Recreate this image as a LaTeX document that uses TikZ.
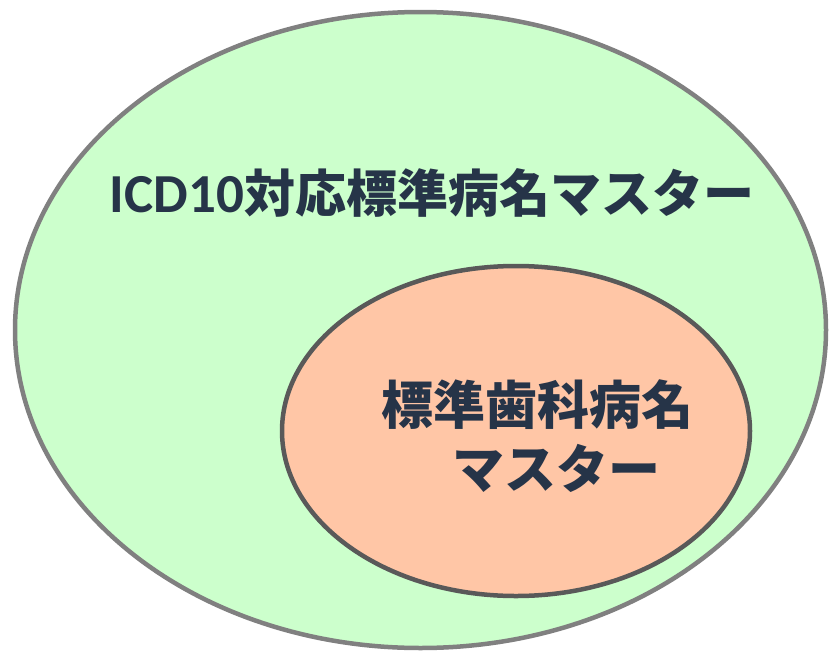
\documentclass[tikz,border=0pt]{standalone}
\usepackage{fontspec}
\newfontfamily\jpfont{Noto Sans CJK JP}
\newfontfamily\latfont{Carlito}
\definecolor{outerfill}{HTML}{CCFFCC}
\definecolor{outerline}{HTML}{808080}
\definecolor{innerfill}{HTML}{FFC6A6}
\definecolor{innerline}{HTML}{595959}
\definecolor{txt}{RGB}{38,52,72}
\begin{document}
\begin{tikzpicture}[x=1pt,y=-1pt,
  label text/.style={inner sep=0pt, text=txt, font=\bfseries\jpfont\fontsize{51}{60}\selectfont}]
\useasboundingbox (0,0) rectangle (830,651);
\fill[white] (0,0) rectangle (830,651);
\draw[outerline, fill=outerfill, line width=4.5pt] (420.5,330) ellipse [x radius=405.5, y radius=318];
\draw[innerline, fill=innerfill, line width=4.5pt] (516,431) ellipse [x radius=234, y radius=165];
\node[label text, anchor=center] (title) at (432,193) {{\latfont\fontsize{55}{60}\selectfont ICD10}対応標準病名マスター};
\node[label text, font=\bfseries\jpfont\fontsize{52}{60}\selectfont] (l1) at (537,405) {標準歯科病名};
\node[label text, font=\bfseries\jpfont\fontsize{52}{60}\selectfont] (l2) at (556,468) {マスター};
\end{tikzpicture}
\end{document}
